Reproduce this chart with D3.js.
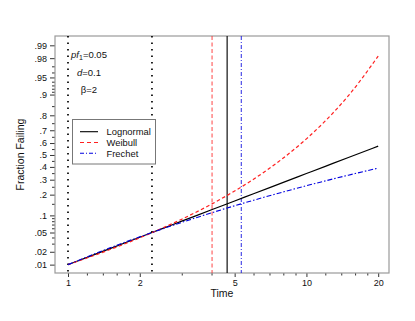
<!DOCTYPE html>
<html><head><meta charset="utf-8">
<script src="https://cdn.jsdelivr.net/npm/d3@7"></script>
<style>body{margin:0;background:#fff} text{font-family:"Liberation Sans",Arial,Helvetica,sans-serif}</style>
</head><body><svg id="c" width="415" height="321"></svg>
<script>
// ---- data ----
const times     = [1, 1.25, 1.5, 2, 2.5, 3, 4, 5, 6, 8, 10, 12, 15, 20];
const lognormal = [0.0100, 0.0162, 0.0235, 0.0405, 0.0597, 0.0801, 0.1225, 0.1646, 0.2054, 0.2805, 0.3468, 0.4048, 0.4785, 0.5744];
const weibull   = [0.0100, 0.0156, 0.0224, 0.0394, 0.0609, 0.0865, 0.1485, 0.2222, 0.3036, 0.4744, 0.6340, 0.7648, 0.8958, 0.9820];
const frechet   = [0.0100, 0.0167, 0.0244, 0.0412, 0.0588, 0.0763, 0.1099, 0.1405, 0.1684, 0.2166, 0.2569, 0.2912, 0.3342, 0.3902];
const seriesNames = ["Lognormal", "Weibull", "Frechet"];
const xTickValues = [1, 2, 5, 10, 20];
const xMinorTicks = [1.2, 1.4, 1.6, 1.8, 3, 4, 6, 7, 8, 9, 12, 14, 16, 18];
const yTickValues = [.01, .02, .05, .1, .2, .3, .4, .5, .6, .7, .8, .9, .95, .98, .99];
const yTickLabels = [".01", ".02", ".05", ".1", ".2", ".3", ".4", ".5", ".6", ".7", ".8", ".9", ".95", ".98", ".99"];
const yMinorTicks = [.03, .04, .06, .07, .08, .09, .15, .25, .35, .45, .55, .65, .75, .85, .91, .92, .93, .94, .96, .97];
const refTimes = [1, 2.25];          // dotted reference lines
const quantileTimes = [4.65, 4.02, 5.33]; // lognormal, weibull, frechet 0.15 quantiles
const xDomain = [0.882, 22.2];
const pDomain = [0.00614, 0.9942];

// ---- normal quantile ----
function probit(p){
  const a=[-3.969683028665376e+01,2.209460984245205e+02,-2.759285104469687e+02,1.383577518672690e+02,-3.066479806614716e+01,2.506628277459239e+00];
  const b=[-5.447609879822406e+01,1.615858368580409e+02,-1.556989798598866e+02,6.680131188771972e+01,-1.328068155288572e+01];
  const c=[-7.784894002430293e-03,-3.223964580411365e-01,-2.400758277161838e+00,-2.549732539343734e+00,4.374664141464968e+00,2.938163982698783e+00];
  const d=[7.784695709041462e-03,3.224671290700398e-01,2.445134137142996e+00,3.754408661907416e+00];
  const pl=0.02425; let q,r;
  if(p<pl){q=Math.sqrt(-2*Math.log(p));return (((((c[0]*q+c[1])*q+c[2])*q+c[3])*q+c[4])*q+c[5])/((((d[0]*q+d[1])*q+d[2])*q+d[3])*q+1);}
  if(p<=1-pl){q=p-0.5;r=q*q;return (((((a[0]*r+a[1])*r+a[2])*r+a[3])*r+a[4])*r+a[5])*q/(((((b[0]*r+b[1])*r+b[2])*r+b[3])*r+b[4])*r+1);}
  q=Math.sqrt(-2*Math.log(1-p));return -(((((c[0]*q+c[1])*q+c[2])*q+c[3])*q+c[4])*q+c[5])/((((d[0]*q+d[1])*q+d[2])*q+d[3])*q+1);
}

const L=55, R=389, T=36, B=273;
const svg = d3.select("#c");
const x = d3.scaleLog().domain(xDomain).range([L, R]);
const yz = d3.scaleLinear().domain(pDomain.map(probit)).range([B, T]);
const y = p => yz(probit(p));

const styles = [
  {color:"#000000", dash:null, width:1.2},
  {color:"#ff2020", dash:"3.5,2.5", width:1.2},
  {color:"#0000e0", dash:"5,2,1.5,2", width:1.1}
];

// axes
const gy = svg.append("g").attr("transform",`translate(${L},0)`)
  .call(d3.axisLeft(yz).tickValues(yTickValues.map(probit)).tickFormat((d,i)=>yTickLabels[i]).tickSize(5).tickPadding(3));
const gym = svg.append("g").attr("transform",`translate(${L},0)`)
  .call(d3.axisLeft(yz).tickValues(yMinorTicks.map(probit)).tickFormat("").tickSize(3));
const gx = svg.append("g").attr("transform",`translate(0,${B})`)
  .call(d3.axisBottom(x).tickValues(xTickValues).tickFormat(d3.format("d")).tickSize(4).tickPadding(3));
const gxm = svg.append("g").attr("transform",`translate(0,${B})`)
  .call(d3.axisBottom(x).tickValues(xMinorTicks).tickFormat("").tickSize(2.5));
[gy,gym,gx,gxm].forEach(g=>{
  g.select(".domain").remove();
  g.selectAll("line").attr("stroke","#333");
  g.selectAll("text").attr("font-size","9px").attr("fill","#111").attr("font-family",'"Liberation Sans",Arial,sans-serif');
});

// frame
svg.append("rect").attr("x",L).attr("y",T).attr("width",R-L).attr("height",B-T)
  .attr("fill","none").attr("stroke","#9a9a9a").attr("stroke-width",1.2);

// vertical reference lines
refTimes.forEach(t=>{
  svg.append("line").attr("x1",x(t)).attr("x2",x(t)).attr("y1",T).attr("y2",B)
    .attr("stroke","#000").attr("stroke-width",1.7).attr("stroke-dasharray","1.5,5");
});
const vStyles = [
  {color:"#111", dash:null, width:1.2},
  {color:"#ff3030", dash:"4,2.5", width:0.9},
  {color:"#1010e0", dash:"4,2,1,2", width:0.9}
];
quantileTimes.forEach((t,i)=>{
  svg.append("line").attr("x1",x(t)).attr("x2",x(t)).attr("y1",T).attr("y2",B)
    .attr("stroke",vStyles[i].color).attr("stroke-width",vStyles[i].width)
    .attr("stroke-dasharray",vStyles[i].dash);
});

// curves
const line = d3.line().x(d=>x(d[0])).y(d=>y(d[1])).curve(d3.curveMonotoneX);
[lognormal, weibull, frechet].forEach((vals,i)=>{
  svg.append("path").datum(times.map((t,j)=>[t, vals[j]]))
    .attr("d", line).attr("fill","none")
    .attr("stroke",styles[i].color).attr("stroke-width",styles[i].width)
    .attr("stroke-dasharray",styles[i].dash);
});

// annotations
const ann = svg.append("g").attr("font-size","9.5px").attr("fill","#111").attr("text-anchor","middle");
const t1 = ann.append("text").attr("x",89).attr("y",57.5);
t1.append("tspan").attr("font-style","italic").text("pf");
t1.append("tspan").attr("font-size","7px").attr("dy","2").text("1");
t1.append("tspan").attr("dy","-2").text("=0.05");
const t2 = ann.append("text").attr("x",89).attr("y",75.5);
t2.append("tspan").attr("font-style","italic").text("d");
t2.append("tspan").text("=0.1");
ann.append("text").attr("x",89).attr("y",92.7).text("β=2");

// legend
const lg = svg.append("g");
lg.append("rect").attr("x",72.5).attr("y",119.5).attr("width",83).attr("height",44.5)
  .attr("fill","#fff").attr("stroke","#777").attr("stroke-width",1);
const legStyles = [
  {color:"#000", dash:null},
  {color:"#ff2020", dash:"4,3"},
  {color:"#0000e0", dash:"4,2,1,2"}
];
seriesNames.forEach((n,i)=>{
  const yy = 131.7 + i*10.8;
  lg.append("line").attr("x1",80).attr("x2",98).attr("y1",yy).attr("y2",yy)
    .attr("stroke",legStyles[i].color).attr("stroke-width",1.1).attr("stroke-dasharray",legStyles[i].dash);
  lg.append("text").attr("x",106.5).attr("y",yy+3.4).attr("font-size","9.4px").attr("fill","#111").text(n);
});

// axis titles
svg.append("text").attr("x",(L+R)/2).attr("y",297).attr("text-anchor","middle")
  .attr("font-size","10.5px").attr("fill","#111").text("Time");
svg.append("text").attr("transform",`translate(24,${(T+B)/2}) rotate(-90)`).attr("text-anchor","middle")
  .attr("font-size","10.5px").attr("fill","#111").text("Fraction Failing");
</script></body></html>
